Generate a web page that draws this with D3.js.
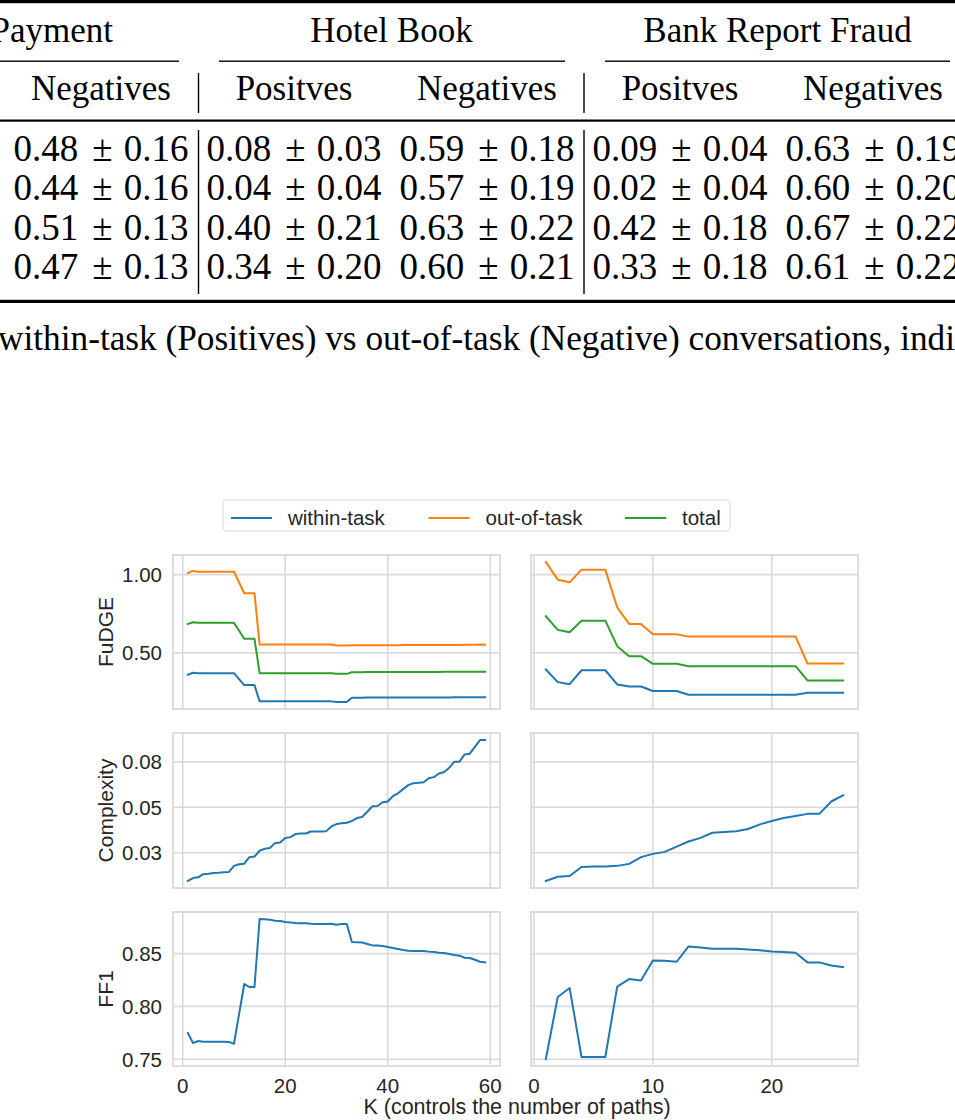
<!DOCTYPE html>
<html>
<head>
<meta charset="utf-8">
<script src="https://cdn.jsdelivr.net/npm/d3@7"></script>
<style>
  body { margin: 0; background: #fff; }
  svg { display: block; }
</style>
</head>
<body>
<div id="page"></div>
<script>
// ---- table data (top of the page) ----
const groupNames = ['Payment', 'Hotel Book', 'Bank Report Fraud'];
const subHeaders = ['Negatives', 'Positves', 'Negatives', 'Positves', 'Negatives'];
const tableMeans = [
  [0.48, 0.08, 0.59, 0.09, 0.63],
  [0.44, 0.04, 0.57, 0.02, 0.60],
  [0.51, 0.40, 0.63, 0.42, 0.67],
  [0.47, 0.34, 0.60, 0.33, 0.61]
];
const tableStds = [
  [0.16, 0.03, 0.18, 0.04, 0.19],
  [0.16, 0.04, 0.19, 0.04, 0.20],
  [0.13, 0.21, 0.22, 0.18, 0.22],
  [0.13, 0.20, 0.21, 0.18, 0.22]
];
const captionText = 'within-task (Positives) vs out-of-task (Negative) conversations, indi';

// ---- chart data ----
const seriesNames = ['within-task', 'out-of-task', 'total'];
const seriesColors = ['#1f77b4', '#ff7f0e', '#2ca02c'];
const rowLabels = ['FuDGE', 'Complexity', 'FF1'];
const xLabel = 'K (controls the number of paths)';

const kLeft = d3.range(1, 60);   // K = 1..59
const kRight = d3.range(1, 27);  // K = 1..26

const fudgeWithinLeft = [0.360, 0.373, 0.370, 0.370, 0.370, 0.370, 0.370, 0.370, 0.370, 0.370,
  0.332, 0.294, 0.294, 0.294, 0.190, 0.190, 0.190, 0.190, 0.190, 0.190,
  0.190, 0.190, 0.190, 0.190, 0.190, 0.190, 0.190, 0.190, 0.190, 0.186,
  0.186, 0.186, 0.213, 0.213, 0.213, 0.214, 0.214, 0.214, 0.214, 0.214,
  0.214, 0.214, 0.214, 0.215, 0.215, 0.215, 0.215, 0.215, 0.215, 0.215,
  0.215, 0.215, 0.216, 0.216, 0.216, 0.216, 0.216, 0.217, 0.217];
const fudgeOutLeft = [1.011, 1.024, 1.019, 1.019, 1.019, 1.019, 1.019, 1.019, 1.019, 1.019,
  0.950, 0.881, 0.881, 0.881, 0.553, 0.553, 0.553, 0.553, 0.553, 0.553,
  0.553, 0.553, 0.553, 0.553, 0.553, 0.553, 0.553, 0.553, 0.553, 0.547,
  0.547, 0.547, 0.548, 0.548, 0.548, 0.549, 0.549, 0.549, 0.549, 0.549,
  0.549, 0.549, 0.550, 0.550, 0.550, 0.550, 0.550, 0.550, 0.550, 0.551,
  0.551, 0.551, 0.551, 0.551, 0.552, 0.552, 0.552, 0.553, 0.552];
const fudgeTotalLeft = [0.685, 0.696, 0.692, 0.692, 0.692, 0.692, 0.692, 0.692, 0.692, 0.692,
  0.641, 0.590, 0.590, 0.590, 0.370, 0.370, 0.370, 0.370, 0.370, 0.370,
  0.370, 0.370, 0.370, 0.370, 0.370, 0.370, 0.370, 0.370, 0.370, 0.366,
  0.366, 0.366, 0.376, 0.376, 0.376, 0.377, 0.377, 0.377, 0.377, 0.377,
  0.377, 0.377, 0.378, 0.378, 0.378, 0.378, 0.378, 0.378, 0.378, 0.378,
  0.379, 0.379, 0.379, 0.379, 0.379, 0.379, 0.380, 0.380, 0.380];

const fudgeWithinRight = [0.394, 0.313, 0.300, 0.389, 0.389, 0.389, 0.298, 0.285, 0.285, 0.256,
  0.256, 0.256, 0.232, 0.232, 0.232, 0.232, 0.232, 0.232, 0.232, 0.232,
  0.232, 0.232, 0.245, 0.245, 0.245, 0.245];
const fudgeOutRight = [1.081, 0.968, 0.951, 1.032, 1.032, 1.032, 0.791, 0.685, 0.685, 0.619,
  0.619, 0.619, 0.604, 0.604, 0.604, 0.604, 0.604, 0.604, 0.604, 0.604,
  0.604, 0.604, 0.432, 0.432, 0.432, 0.432];
const fudgeTotalRight = [0.734, 0.647, 0.632, 0.706, 0.706, 0.706, 0.543, 0.479, 0.479, 0.430,
  0.430, 0.430, 0.415, 0.415, 0.415, 0.415, 0.415, 0.415, 0.415, 0.415,
  0.415, 0.415, 0.324, 0.324, 0.324, 0.324];

const complexityLeft = [0.0096, 0.0111, 0.0115, 0.0132, 0.0135, 0.0139, 0.0140, 0.0143, 0.0144, 0.0178,
  0.0187, 0.0190, 0.0226, 0.0229, 0.0261, 0.0272, 0.0276, 0.0303, 0.0306, 0.0331,
  0.0336, 0.0353, 0.0356, 0.0356, 0.0367, 0.0367, 0.0367, 0.0369, 0.0395, 0.0408,
  0.0412, 0.0415, 0.0425, 0.0441, 0.0447, 0.0476, 0.0506, 0.0507, 0.0528, 0.0532,
  0.0561, 0.0577, 0.0600, 0.0622, 0.0633, 0.0635, 0.0638, 0.0660, 0.0666, 0.0686,
  0.0694, 0.0718, 0.0751, 0.0751, 0.0791, 0.0795, 0.0832, 0.0870, 0.0870];
const complexityRight = [0.0095, 0.0118, 0.0122, 0.0172, 0.0174, 0.0174, 0.0178, 0.0189, 0.0226, 0.0244,
  0.0255, 0.0284, 0.0312, 0.0332, 0.0360, 0.0364, 0.0368, 0.0381, 0.0406, 0.0425,
  0.0441, 0.0452, 0.0464, 0.0464, 0.0532, 0.0566];

const ff1Left = [0.7748, 0.7653, 0.7672, 0.7666, 0.7666, 0.7665, 0.7665, 0.7665, 0.7664, 0.7647,
  0.7930, 0.8212, 0.8184, 0.8184, 0.8828, 0.8825, 0.8822, 0.8812, 0.8809, 0.8799,
  0.8796, 0.8790, 0.8788, 0.8788, 0.8783, 0.8780, 0.8780, 0.8780, 0.8783, 0.8774,
  0.8780, 0.8780, 0.8610, 0.8608, 0.8605, 0.8591, 0.8578, 0.8578, 0.8572, 0.8562,
  0.8553, 0.8544, 0.8534, 0.8528, 0.8525, 0.8525, 0.8525, 0.8519, 0.8516, 0.8509,
  0.8506, 0.8497, 0.8487, 0.8481, 0.8461, 0.8458, 0.8442, 0.8423, 0.8417];
const ff1Right = [0.7502, 0.8089, 0.8174, 0.7521, 0.7521, 0.7521, 0.8187, 0.8259, 0.8246, 0.8436,
  0.8433, 0.8423, 0.8568, 0.8559, 0.8547, 0.8547, 0.8547, 0.8540, 0.8531, 0.8521,
  0.8515, 0.8509, 0.8417, 0.8417, 0.8388, 0.8373];

const xTicksLeft = [0, 20, 40, 60];
const xTicksRight = [0, 10, 20];
const yTicksFudge = [0.5, 1.0];
const yTickLabelsFudge = ['0.50', '1.00'];
const yTicksComplexity = [0.025, 0.05, 0.075];
const yTickLabelsComplexity = ['0.03', '0.05', '0.08'];
const yTicksFF1 = [0.75, 0.80, 0.85];
const yTickLabelsFF1 = ['0.75', '0.80', '0.85'];

// ---- page ----
const width = 955, height = 1120;
const serif = '"Liberation Serif", "Times New Roman", serif';
const sans = '"Liberation Sans", Arial, sans-serif';
const textColor = '#262626';
const gridColor = '#dadada';

const svg = d3.select('#page').append('svg')
  .attr('width', width).attr('height', height)
  .style('background', '#fff');

// ----- table -----
const table = svg.append('g').attr('font-family', serif).attr('font-size', 35).attr('fill', '#000');
const colX = d3.scaleLinear().domain([0, 1]).range([101, 294]);     // column centres
const rowY = d3.scaleLinear().domain([0, 1]).range([161, 200.4]);   // row baselines

// booktabs rules
table.append('rect').attr('x', 0).attr('y', 0).attr('width', width).attr('height', 3.2);
table.append('rect').attr('x', 0).attr('y', 119.5).attr('width', width).attr('height', 2.2);
table.append('rect').attr('x', 0).attr('y', 299.8).attr('width', width).attr('height', 3.2);

// group headers with their cmidrules
const groupCols = [[-1, 0], [1, 2], [3, 4]];
groupCols.forEach((cols, i) => {
  const x0 = Math.max(0, colX(cols[0]) - 75);
  const x1 = Math.min(width - 5, colX(cols[1]) + 78);
  table.append('rect').attr('x', x0).attr('y', 60.5).attr('width', x1 - x0).attr('height', 1.4);
  const t = table.append('text').attr('y', 42).text(groupNames[i]);
  if (i === 0) {
    t.attr('x', 113).attr('text-anchor', 'end');
  } else {
    t.attr('x', (colX(cols[0]) + colX(cols[1])) / 2 + 1).attr('text-anchor', 'middle');
  }
});

subHeaders.forEach((h, i) => {
  table.append('text').attr('x', colX(i)).attr('y', 100)
    .attr('text-anchor', 'middle').text(h);
});

// vertical separators
[198.5, 584].forEach(x => {
  table.append('rect').attr('x', x - 0.7).attr('y', 73).attr('width', 1.4).attr('height', 40);
  table.append('rect').attr('x', x - 0.7).attr('y', 130).attr('width', 1.4).attr('height', 164);
});

tableMeans.forEach((row, r) => {
  row.forEach((m, c) => {
    const cx = colX(c), y = rowY(r);
    const cell = table.append('g').attr('font-size', 37);
    cell.append('text').attr('x', cx - 87.5).attr('y', y).text(m.toFixed(2));
    cell.append('text').attr('x', cx + 1.5).attr('y', y).attr('text-anchor', 'middle').text('\u00b1');
    cell.append('text').attr('x', cx + 87.5).attr('y', y).attr('text-anchor', 'end')
      .text(tableStds[r][c].toFixed(2));
  });
});

table.append('text').attr('x', -2).attr('y', 350).attr('font-size', 36.5)
  .attr('textLength', 957).attr('lengthAdjust', 'spacingAndGlyphs')
  .text(captionText);

// ----- chart -----
const pad = ([a, b]) => [a - (b - a) * 0.05, b + (b - a) * 0.05];

const colRanges = [[173, 500], [531, 858]];
const rowRanges = [[555, 709], [733, 888], [912, 1066]];

const xLeft = d3.scaleLinear().domain(pad(d3.extent(kLeft))).range(colRanges[0]);
const xRight = d3.scaleLinear().domain(pad(d3.extent(kRight))).range(colRanges[1]);

const rows = [
  {
    label: rowLabels[0], ticks: yTicksFudge, tickLabels: yTickLabelsFudge,
    left: [fudgeWithinLeft, fudgeOutLeft, fudgeTotalLeft],
    right: [fudgeWithinRight, fudgeOutRight, fudgeTotalRight]
  },
  {
    label: rowLabels[1], ticks: yTicksComplexity, tickLabels: yTickLabelsComplexity,
    left: [complexityLeft], right: [complexityRight]
  },
  {
    label: rowLabels[2], ticks: yTicksFF1, tickLabels: yTickLabelsFF1,
    left: [ff1Left], right: [ff1Right]
  }
];

const chart = svg.append('g').attr('font-family', sans).attr('fill', textColor);

function drawPanel(x, y, ticksX, series, ks, ticksY, showX, showY, tickLabelsY) {
  const [x0, x1] = x.range();
  const [yb, yt] = y.range();
  const g = chart.append('g');

  // grid
  g.selectAll('.gx').data(ticksX.filter(t => x(t) >= x0 && x(t) <= x1)).join('line')
    .attr('x1', d => x(d)).attr('x2', d => x(d)).attr('y1', yt).attr('y2', yb)
    .attr('stroke', gridColor).attr('stroke-width', 1.6);
  g.selectAll('.gy').data(ticksY).join('line')
    .attr('x1', x0).attr('x2', x1).attr('y1', d => y(d)).attr('y2', d => y(d))
    .attr('stroke', gridColor).attr('stroke-width', 1.6);

  // lines
  const line = d3.line().x((d, i) => x(ks[i])).y(d => y(d));
  series.forEach((s, i) => {
    g.append('path').datum(s).attr('d', line)
      .attr('fill', 'none').attr('stroke', seriesColors[i])
      .attr('stroke-width', 2).attr('stroke-linejoin', 'round').attr('stroke-linecap', 'square');
  });

  // spines
  g.append('rect').attr('x', x0).attr('y', yt).attr('width', x1 - x0).attr('height', yb - yt)
    .attr('fill', 'none').attr('stroke', gridColor).attr('stroke-width', 1.8);

  if (showY) {
    g.selectAll('.ty').data(ticksY).join('text')
      .attr('x', x0 - 11).attr('y', d => y(d) + 7.3)
      .attr('text-anchor', 'end').attr('font-size', 20.5)
      .text((d, i) => tickLabelsY[i]);
  }
  if (showX) {
    g.selectAll('.tx').data(ticksX).join('text')
      .attr('x', d => x(d)).attr('y', yb + 26.5)
      .attr('text-anchor', 'middle').attr('font-size', 20.5)
      .text(d => d);
  }
}

rows.forEach((row, r) => {
  const all = row.left.concat(row.right).flat();
  const y = d3.scaleLinear().domain(pad(d3.extent(all))).range([rowRanges[r][1], rowRanges[r][0]]);
  const last = r === rows.length - 1;
  drawPanel(xLeft, y, xTicksLeft, row.left, kLeft, row.ticks, last, true, row.tickLabels);
  drawPanel(xRight, y, xTicksRight, row.right, kRight, row.ticks, last, false, row.tickLabels);

  const cy = (rowRanges[r][0] + rowRanges[r][1]) / 2;
  chart.append('text')
    .attr('transform', `translate(113,${cy}) rotate(-90)`)
    .attr('text-anchor', 'middle').attr('font-size', 21)
    .text(row.label);
});

chart.append('text').attr('x', 517).attr('y', 1113.5)
  .attr('text-anchor', 'middle').attr('font-size', 21.5).text(xLabel);

// legend
const legend = chart.append('g');
legend.append('rect').attr('x', 223).attr('y', 500).attr('width', 507).attr('height', 31)
  .attr('rx', 4).attr('fill', '#fff').attr('stroke', '#dcdcdc').attr('stroke-width', 1.2);
const legendX = [231, 428.6, 625];
seriesNames.forEach((name, i) => {
  legend.append('line').attr('x1', legendX[i]).attr('x2', legendX[i] + 41)
    .attr('y1', 518).attr('y2', 518)
    .attr('stroke', seriesColors[i]).attr('stroke-width', 2);
  legend.append('text').attr('x', legendX[i] + 57).attr('y', 525.3)
    .attr('font-size', 20.5).text(name);
});
</script>
</body>
</html>
